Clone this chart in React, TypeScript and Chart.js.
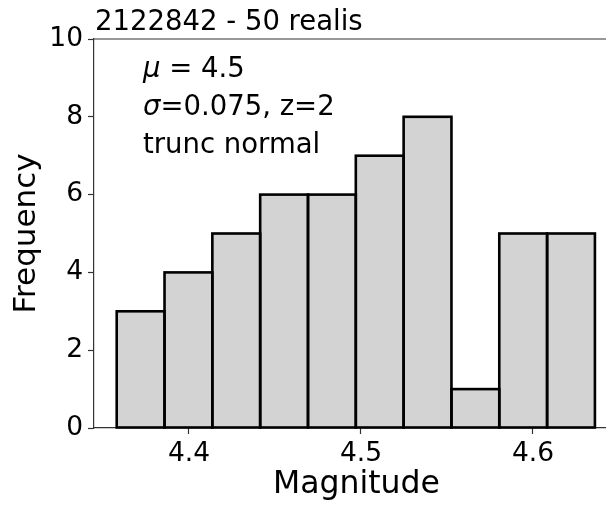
import React, { useEffect, useRef } from "react";
import { Chart, registerables } from "chart.js";

Chart.register(...registerables);

// ---- data ----
const titleText = "2122842 - 50 realis";
const binEdges = [4.358, 4.3858, 4.4136, 4.4414, 4.4692, 4.497, 4.5248, 4.5526, 4.5804, 4.6082, 4.636];
const counts = [3, 4, 5, 6, 6, 7, 8, 1, 5, 5];
const xTickValues = [4.4, 4.5, 4.6];
const yTickValues = [0, 2, 4, 6, 8, 10];
const xRange = [4.3448, 4.65];
const yRange = [0, 10];
const xLabel = "Magnitude";
const yLabel = "Frequency";
// [italic symbol, rest]
const annotationLines: [string, string][] = [
  ["μ", " = 4.5"],
  ["σ", "=0.075, z=2"],
  ["", "trunc normal"],
];

const FONT = "'DejaVu Sans', 'Liberation Sans', sans-serif";

const overlayPlugin = {
  id: "overlay",
  afterDatasetsDraw(chart: any) {
    const { ctx } = chart;
    const meta = chart.getDatasetMeta(0);
    ctx.save();
    ctx.strokeStyle = "#000";
    ctx.lineWidth = 2.6;
    ctx.lineJoin = "miter";
    meta.data.forEach((bar: any) => {
      const { x, y, base, width } = bar.getProps(["x", "y", "base", "width"], true);
      ctx.strokeRect(x - width / 2, y, width, base - y);
    });
    ctx.restore();
  },
  afterDraw(chart: any) {
    const { ctx, chartArea } = chart;
    ctx.save();
    // top spine
    ctx.strokeStyle = "#333";
    ctx.lineWidth = 1.2;
    ctx.beginPath();
    ctx.moveTo(chartArea.left, chartArea.top);
    ctx.lineTo(chartArea.right, chartArea.top);
    ctx.stroke();

    // title (left aligned above axes)
    ctx.fillStyle = "#000";
    ctx.textBaseline = "alphabetic";
    ctx.textAlign = "left";
    ctx.font = `27.5px ${FONT}`;
    ctx.fillText(titleText, chartArea.left + 1, chartArea.top - 9);

    // annotation text
    const offsets = [38, 76, 114];
    annotationLines.forEach(([sym, rest], i) => {
      let x = chartArea.left + 49;
      const y = chartArea.top + offsets[i];
      if (sym) {
        ctx.font = `oblique 27.5px ${FONT}`;
        ctx.fillText(sym, x, y);
        x += ctx.measureText(sym).width;
      }
      ctx.font = `27.5px ${FONT}`;
      ctx.fillText(rest, x, y);
    });
    ctx.restore();
  },
};

export default function App() {
  const canvasRef = useRef<HTMLCanvasElement | null>(null);

  useEffect(() => {
    const canvas = canvasRef.current;
    if (!canvas) return;
    Chart.defaults.font.family = FONT;
    Chart.defaults.color = "#000";

    const points = counts.map((c, i) => ({
      x: (binEdges[i] + binEdges[i + 1]) / 2,
      y: c,
    }));

    const chart = new Chart(canvas, {
      type: "bar",
      data: {
        datasets: [
          {
            data: points as any,
            backgroundColor: "#d3d3d3",
            borderWidth: 0,
            barPercentage: 1,
            categoryPercentage: 1,
            inflateAmount: 0,
          } as any,
        ],
      },
      options: {
        animation: false,
        responsive: false,
        devicePixelRatio: 1,
        layout: { padding: { top: 39, right: 21, left: 0, bottom: 0 } },
        plugins: {
          legend: { display: false },
          tooltip: { enabled: false },
          title: { display: false },
        },
        scales: {
          x: {
            type: "linear",
            min: xRange[0],
            max: xRange[1],
            offset: false,
            grid: {
              display: true,
              offset: false,
              drawOnChartArea: false,
              drawTicks: true,
              tickLength: 6,
              tickColor: "#333",
              tickWidth: 1.2,
            },
            border: { display: true, color: "#333", width: 1.2 },
            afterBuildTicks: (scale: any) => {
              scale.ticks = xTickValues.map((v) => ({ value: v }));
            },
            afterFit: (scale: any) => {
              scale.height = 77;
            },
            ticks: {
              font: { size: 26.5 },
              color: "#000",
              padding: 4,
              maxRotation: 0,
              autoSkip: false,
              callback: (v: any) => Number(v).toFixed(1),
            },
            title: {
              display: true,
              text: xLabel,
              font: { size: 31.5 },
              color: "#000",
              padding: { top: 0, bottom: 1 },
            },
          },
          y: {
            type: "linear",
            min: yRange[0],
            max: yRange[1],
            grid: {
              display: true,
              drawOnChartArea: false,
              drawTicks: true,
              tickLength: 6,
              tickColor: "#333",
              tickWidth: 1.2,
            },
            border: { display: true, color: "#333", width: 1.2 },
            afterBuildTicks: (scale: any) => {
              scale.ticks = yTickValues.map((v) => ({ value: v }));
            },
            afterFit: (scale: any) => {
              scale.width = 94;
            },
            ticks: {
              font: { size: 26.5 },
              color: "#000",
              padding: 5,
              autoSkip: false,
            },
            title: {
              display: true,
              text: yLabel,
              font: { size: 31 },
              color: "#000",
              padding: { top: 8, bottom: 0 },
            },
          },
        },
      },
      plugins: [overlayPlugin],
    } as any);

    return () => chart.destroy();
  }, []);

  return (
    <div
      style={{
        position: "fixed",
        left: 0,
        top: 0,
        width: 606,
        height: 505,
        overflow: "hidden",
        background: "#fff",
      }}
    >
      <canvas ref={canvasRef} width={640} height={505} style={{ display: "block" }} />
    </div>
  );
}
